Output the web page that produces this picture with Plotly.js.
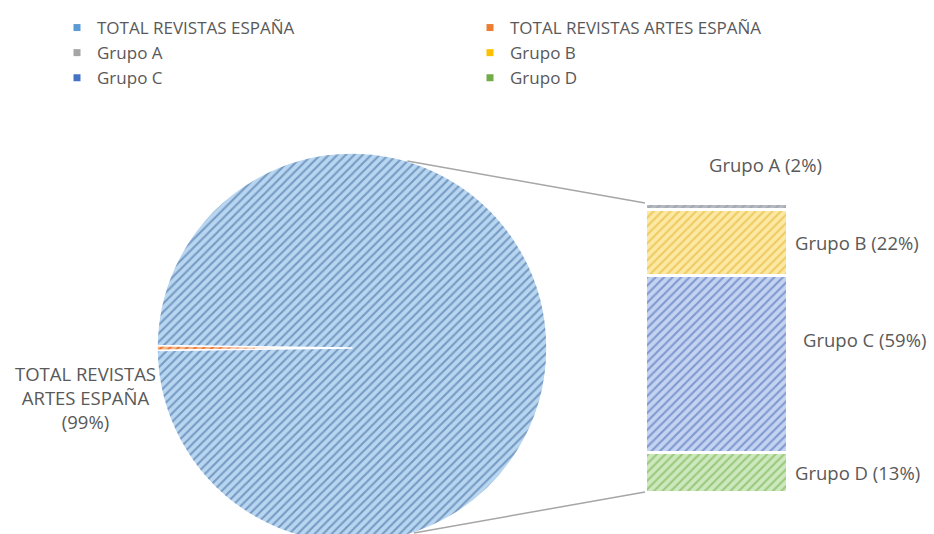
<!DOCTYPE html>
<html>
<head>
<meta charset="utf-8">
<script src="https://cdn.plot.ly/plotly-3.0.1.min.js"></script>
<style>
  html, body { margin: 0; padding: 0; overflow: hidden; background: #fff; }
  #chart { width: 934px; height: 560px; }
</style>
</head>
<body>
<div id="chart"></div>
<script>
// ---- data ----
const legendNames = ['TOTAL REVISTAS ESPAÑA', 'TOTAL REVISTAS ARTES ESPAÑA', 'Grupo A', 'Grupo B', 'Grupo C', 'Grupo D'];
const legendColors = ['#5b9bd5', '#ed7d31', '#a5a5a5', '#ffc000', '#4472c4', '#70ad47'];

const pieLabels = ['TOTAL REVISTAS ARTES ESPAÑA', 'TOTAL REVISTAS ESPAÑA'];
const pieValues = [0.4, 99.6];
const pieLabelText = 'TOTAL REVISTAS<br>ARTES ESPAÑA<br>(99%)';

const barGroups = ['Grupo A', 'Grupo B', 'Grupo C', 'Grupo D'];
const barValues = [2, 22, 59, 13];
const barPctText = ['2%', '22%', '59%', '13%'];
const barBg = ['#b5b9c2', '#fde9a3', '#c3d3f0', '#cde8bd'];
const barFg = ['#a3a7b0', '#eecb62', '#7f98d0', '#98c97c'];

// ---- layout geometry ----
const W = 934, H = 560;
const pieDomX = [157 / W, 547 / W];
const pieDomY = [1 - 543 / H, 1 - 153 / H];
const barDomX = [645 / W, 787 / W];
const barDomY = [1 - 492 / H, 1 - 203 / H];
const textColor = '#595959';
const font = 'Open Sans, sans-serif';
const labelSize = 18.5;
const legendSize = 17;

const barTotal = barValues.reduce((a, b) => a + b, 0);

const traces = [];

// pie
const smallFrac = pieValues[0] / pieValues.reduce((a, b) => a + b, 0);
traces.push({
  type: 'pie',
  labels: pieLabels,
  values: pieValues,
  sort: false,
  direction: 'clockwise',
  rotation: -90 - smallFrac * 180,
  textinfo: 'none',
  hoverinfo: 'label+percent',
  showlegend: false,
  domain: { x: pieDomX, y: pieDomY },
  marker: {
    colors: ['#f6b58a', '#b9d6f1'],
    line: { color: '#ffffff', width: 1.5 },
    pattern: {
      shape: '/',
      size: 6,
      solidity: 0.36,
      fgcolor: ['#e9782f', '#769bc3'],
      bgcolor: ['#f6b58a', '#b9d6f1']
    }
  }
});

// stacked bar (bottom to top: D, C, B, A)
for (let i = barGroups.length - 1; i >= 0; i--) {
  traces.push({
    type: 'bar',
    x: ['bar'],
    y: [barValues[i]],
    name: barGroups[i],
    showlegend: false,
    hoverinfo: 'name+y',
    marker: {
      color: barBg[i],
      line: { color: '#ffffff', width: 3 },
      pattern: { shape: '/', size: 6, solidity: 0.35, fgcolor: barFg[i], bgcolor: barBg[i] }
    }
  });
}

// legend-only entries
legendNames.forEach((n, i) => {
  traces.push({
    type: 'scatter', mode: 'markers', x: [null], y: [null], name: n,
    marker: { symbol: 'square', size: 7, color: legendColors[i] },
    showlegend: true, hoverinfo: 'skip'
  });
});

// annotations
const annotations = [];
annotations.push({
  xref: 'paper', yref: 'paper',
  x: 85 / W, y: 1 - 397 / H, xanchor: 'center', yanchor: 'middle',
  text: pieLabelText, showarrow: false, align: 'center',
  font: { family: font, size: labelSize, color: textColor }
});
let cum = 0;
const mids = {};
for (let i = barGroups.length - 1; i >= 0; i--) {
  mids[i] = cum + barValues[i] / 2;
  cum += barValues[i];
}
const labelShift = [0, 0, 25, 0];
for (let i = 1; i < barGroups.length; i++) {
  annotations.push({
    xref: 'paper', yref: 'y',
    x: barDomX[1], y: mids[i], xanchor: 'left', yanchor: 'middle',
    xshift: i === 2 ? 14 : 6, yshift: labelShift[i],
    text: barGroups[i] + ' (' + barPctText[i] + ')', showarrow: false,
    font: { family: font, size: labelSize, color: textColor }
  });
}
annotations.push({
  xref: 'paper', yref: 'y',
  x: (barDomX[0] + barDomX[1]) / 2, y: barTotal, xanchor: 'center', yanchor: 'bottom',
  xshift: 49, yshift: 24,
  text: barGroups[0] + ' (' + barPctText[0] + ')', showarrow: false,
  font: { family: font, size: labelSize, color: textColor }
});

// connector lines from pie to bar
const cx = (pieDomX[0] + pieDomX[1]) / 2 * W;
const cy = (1 - (pieDomY[0] + pieDomY[1]) / 2) * H;
const r = Math.min((pieDomX[1] - pieDomX[0]) * W, (pieDomY[1] - pieDomY[0]) * H) / 2;
function onCircle(degCw) {
  const a = degCw * Math.PI / 180;
  return [(cx + r * Math.sin(a)) / W, 1 - (cy - r * Math.cos(a)) / H];
}
const pTop = onCircle(16.5);
const pBot = onCircle(161.5);
const shapes = [
  { type: 'line', xref: 'paper', yref: 'paper', x0: pTop[0], y0: pTop[1], x1: barDomX[0], y1: barDomY[1],
    line: { color: '#a6a6a6', width: 1.5 } },
  { type: 'line', xref: 'paper', yref: 'paper', x0: pBot[0], y0: pBot[1], x1: barDomX[0], y1: barDomY[0],
    line: { color: '#a6a6a6', width: 1.5 } }
];

const layout = {
  width: W, height: H,
  margin: { l: 0, r: 0, t: 0, b: 0 },
  paper_bgcolor: '#ffffff', plot_bgcolor: 'rgba(0,0,0,0)',
  font: { family: font, size: legendSize, color: textColor },
  showlegend: true,
  barmode: 'stack', bargap: 0,
  xaxis: { domain: barDomX, visible: false, fixedrange: true },
  yaxis: { domain: barDomY, range: [0, barTotal], visible: false, fixedrange: true },
  legend: {
    orientation: 'h', x: 57 / W, y: 1 - 10 / H, xanchor: 'left', yanchor: 'top',
    entrywidth: 368, entrywidthmode: 'pixels', traceorder: 'normal',
    font: { family: font, size: legendSize, color: textColor },
    itemwidth: 30, tracegroupgap: 0, bgcolor: 'rgba(0,0,0,0)'
  },
  annotations: annotations,
  shapes: shapes
};

Plotly.newPlot('chart', traces, layout, { displayModeBar: false, staticPlot: true });
</script>
</body>
</html>
